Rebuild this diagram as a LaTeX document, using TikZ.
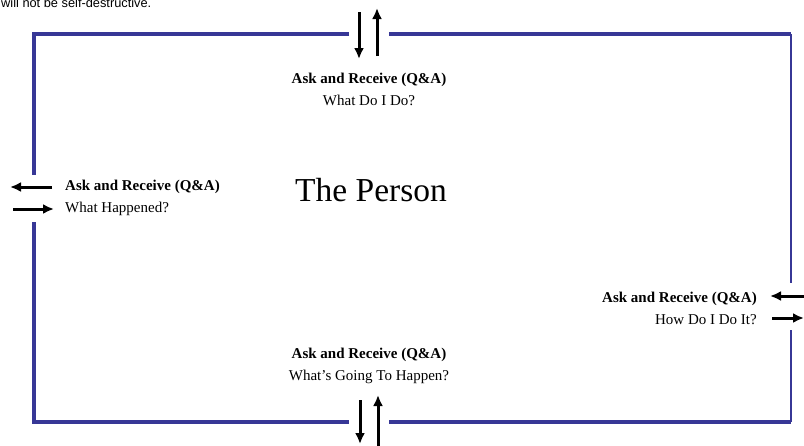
\documentclass[tikz,border=0pt]{standalone}
\usepackage{fontspec}
\setmainfont{Liberation Serif}
\newfontfamily\sansf{Liberation Sans}
\usetikzlibrary{arrows.meta}
\definecolor{frameblue}{RGB}{55,55,150}
\tikzset{
  frame/.style={draw=frameblue, line width=3.4},
  framethin/.style={draw=frameblue, line width=1.8},
  flow/.style={draw=black, line width=3, -{Latex[length=11,width=10]}},
  qa/.style={inner sep=0, font=\fontsize{15}{22}\selectfont},
}
\begin{document}
\begin{tikzpicture}[x=1pt,y=-1pt]
\useasboundingbox (0,0) rectangle (804,445);
\fill[white] (0,0) rectangle (804,445);
% frame
\draw[frame] (349,34) -- (34,34) -- (34,175);
\draw[frame] (34,222) -- (34,422) -- (349,422);
\draw[frame] (389,422) -- (791,422);
\draw[frame] (389,34) -- (791,34);
\draw[framethin] (791,34) -- (791,283);
\draw[framethin] (791,330) -- (791,422);
% clipped top text
\node[anchor=base west, inner sep=0, font=\sansf\fontsize{12.8}{14}\selectfont] (note) at (1,7) {will not be self-destructive.};
% center
\node[inner sep=0, font=\fontsize{33.5}{40}\selectfont] (person) at (371,190) {The Person};
% text blocks
\node[qa, align=center] (top) at (369,89) {\textbf{Ask and Receive (Q\&A)}\\What Do I Do?};
\node[qa, align=left, anchor=west] (left) at (65,198) {\textbf{Ask and Receive (Q\&A)}\\What Happened?};
\node[qa, align=right, anchor=east] (right) at (757,308) {\textbf{Ask and Receive (Q\&A)}\\How Do I Do It?};
\node[qa, align=center] (bottom) at (369,366) {\textbf{Ask and Receive (Q\&A)}\\What's Going To Happen?};
% arrow end points
\coordinate (tdA) at (359,12);  \coordinate (tdB) at (359,59);
\coordinate (tuA) at (377,56);  \coordinate (tuB) at (377,8);
\coordinate (bdA) at (360,400); \coordinate (bdB) at (360,444);
\coordinate (buA) at (378,450); \coordinate (buB) at (378,395);
\coordinate (llA) at (52,187);  \coordinate (llB) at (10,187);
\coordinate (lrA) at (13,209);  \coordinate (lrB) at (54,209);
\coordinate (rlA) at (806,296); \coordinate (rlB) at (770,296);
\coordinate (rrA) at (772,318); \coordinate (rrB) at (804,318);
\draw[flow] (tdA) -- (tdB);
\draw[flow] (tuA) -- (tuB);
\draw[flow] (bdA) -- (bdB);
\draw[flow] (buA) -- (buB);
\draw[flow] (llA) -- (llB);
\draw[flow] (lrA) -- (lrB);
\draw[flow] (rlA) -- (rlB);
\draw[flow] (rrA) -- (rrB);
\end{tikzpicture}
\end{document}
